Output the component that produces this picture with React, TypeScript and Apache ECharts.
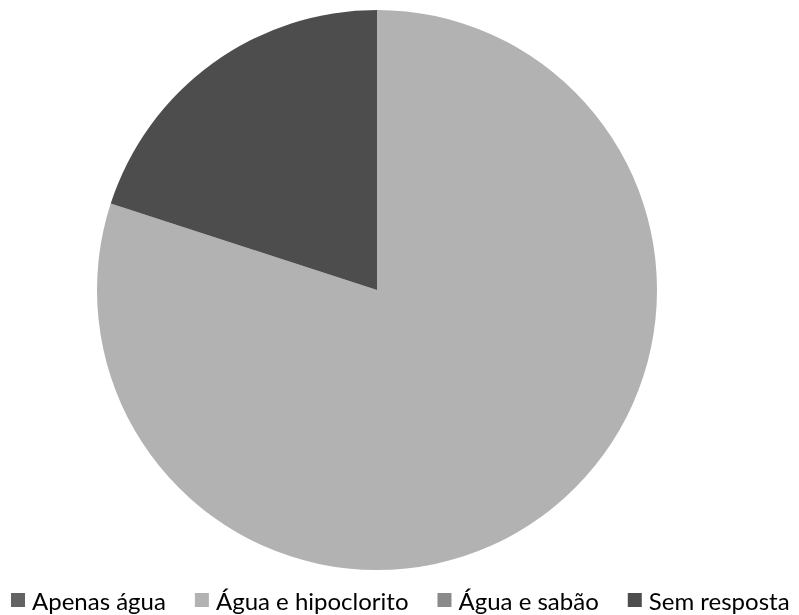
import React, { useEffect, useRef } from "react";
import * as echarts from "echarts";

const categories = ["Apenas água", "Água e hipoclorito", "Água e sabão", "Sem resposta"];
const values = [0, 80, 0, 20];
const colors = ["#636363", "#b2b2b2", "#8a8a8a", "#4d4d4d"];

export default function App() {
  const ref = useRef<HTMLDivElement>(null);
  useEffect(() => {
    const chart = echarts.init(ref.current!, null, { renderer: "svg" });
    chart.setOption({
      animation: false,
      color: colors,
      legend: {
        top: 588,
        left: 11,
        padding: 0,
        icon: "rect",
        itemWidth: 14,
        itemHeight: 14,
        itemGap: 29,
        textStyle: { fontFamily: "Lato", fontSize: 24, color: "#000", padding: [0, 0, 0, 2] },
        data: categories,
      },
      series: [
        {
          type: "pie",
          center: [377, 290],
          radius: 280,
          startAngle: 90,
          clockwise: true,
          label: { show: false },
          labelLine: { show: false },
          itemStyle: { borderWidth: 0 },
          emphasis: { disabled: true },
          data: categories.map((name, i) => ({ name, value: values[i] })),
        },
      ],
    });
    return () => chart.dispose();
  }, []);
  return (
    <div style={{ position: "fixed", left: 0, top: 0 }}>
      <div ref={ref} style={{ width: 799, height: 615 }} />
    </div>
  );
}
